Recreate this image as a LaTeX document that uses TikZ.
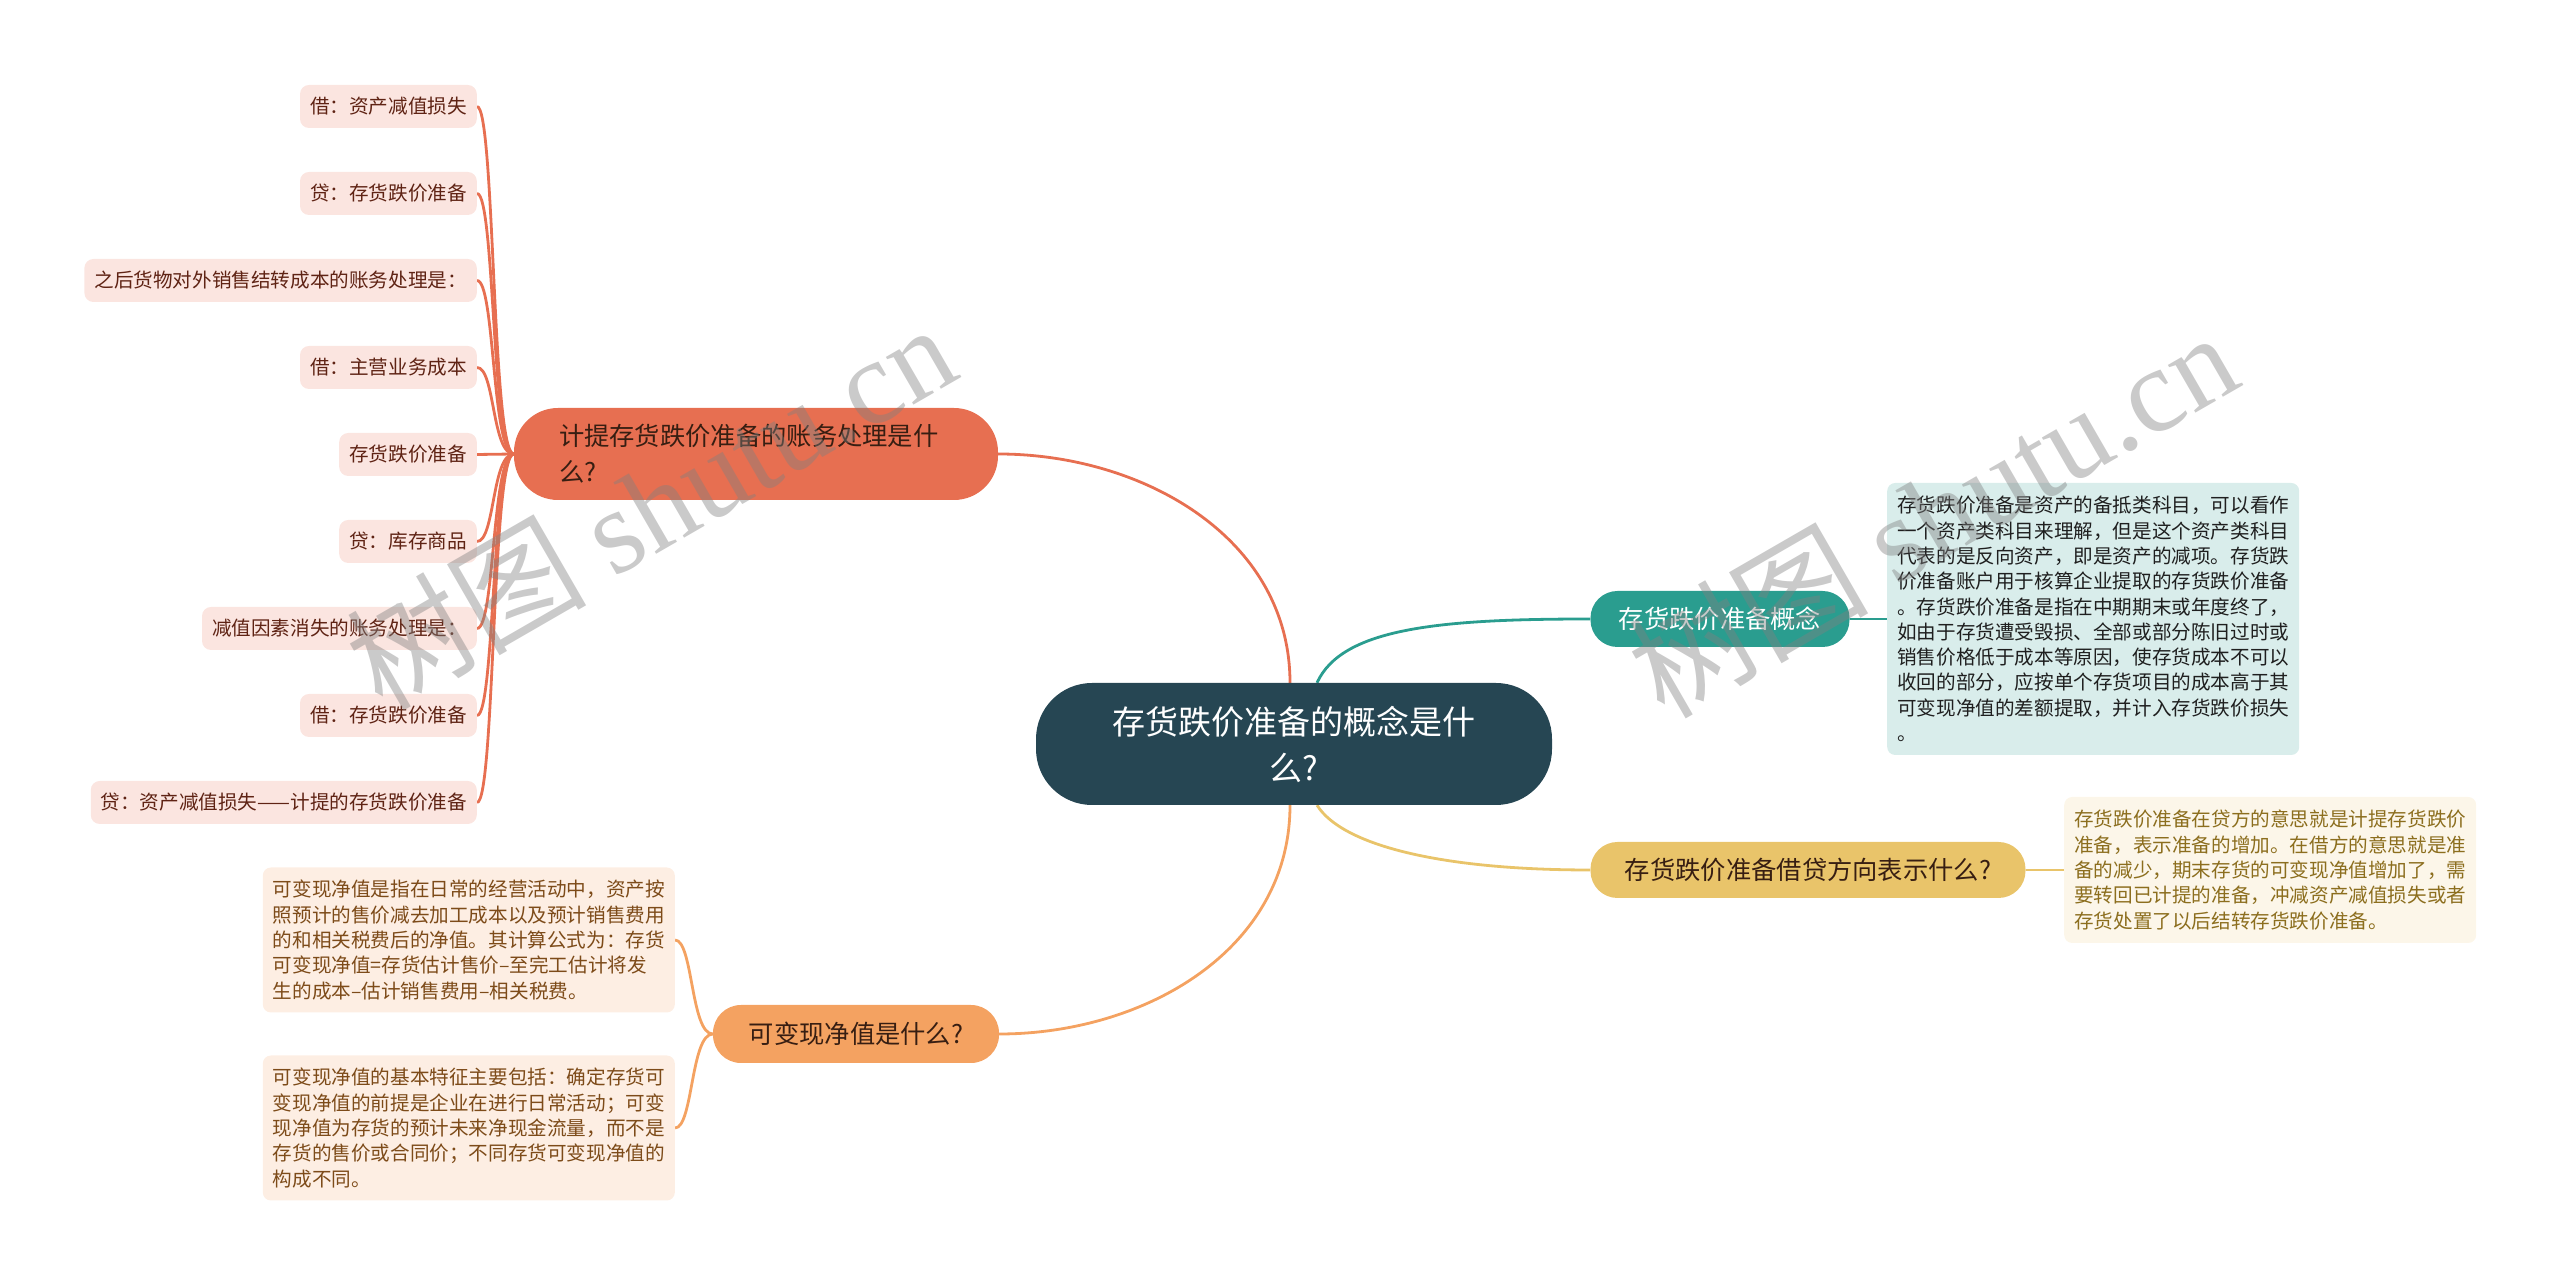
\documentclass[tikz,border=0pt]{standalone}
\usepackage{fontspec}
\setmainfont{Noto Sans CJK SC}
\newfontfamily\wmserif{Liberation Serif}
\usetikzlibrary{calc, backgrounds}
\definecolor{rootslate}{RGB}{38,70,83}
\definecolor{acctcoral}{RGB}{231,111,81}
\definecolor{nrvsandy}{RGB}{244,162,97}
\definecolor{conceptteal}{RGB}{42,157,143}
\definecolor{dirsaffron}{RGB}{233,196,106}
\definecolor{leafbrown}{RGB}{95,35,20}
\definecolor{noteolive}{RGB}{140,110,30}
\definecolor{notebrown}{RGB}{125,75,25}
\definecolor{topicdark}{RGB}{55,30,18}
\tikzset{
  topic/.style={rectangle, inner sep=0pt, align=center,
    font={\fontsize{25.3}{36}\selectfont}},
  roottopic/.style={topic, fill=rootslate, text=white, rounded corners=56,
    minimum width=516, minimum height=122,
    font={\fontsize{33}{46}\selectfont}},
  accttopic/.style={topic, fill=acctcoral, text=topicdark, rounded corners=44,
    minimum height=92, text width=394, inner xsep=45, align=left},
  concepttopic/.style={topic, fill=conceptteal, text=white, rounded corners=27,
    minimum width=259, minimum height=56},
  dirtopic/.style={topic, fill=dirsaffron, text=topicdark, rounded corners=27,
    minimum width=435, minimum height=56},
  nrvtopic/.style={topic, fill=nrvsandy, text=topicdark, rounded corners=28,
    minimum width=286, minimum height=58},
  leafbox/.style={rectangle, rounded corners=9, fill=acctcoral!18,
    text=leafbrown, minimum height=43, inner xsep=10, inner ysep=0pt,
    anchor=east, font={\fontsize{19.6}{24}\selectfont}},
  notebox/.style={rectangle, rounded corners=8, align=left, inner xsep=10,
    inner ysep=0pt, minimum width=411,
    font={\fontsize{19.6}{25.3}\selectfont}},
  conceptnote/.style={notebox, fill=conceptteal!18, text=black!88,
    minimum height=272, anchor=west},
  dirnote/.style={notebox, fill=dirsaffron!15, text=noteolive,
    minimum height=146, anchor=west},
  nrvnote/.style={notebox, fill=nrvsandy!18, text=notebrown,
    minimum height=145, anchor=east},
  acctline/.style={line width=2.8, draw=acctcoral},
  nrvline/.style={line width=2.8, draw=nrvsandy},
  conceptline/.style={line width=2.8, draw=conceptteal},
  dirline/.style={line width=2.8, draw=dirsaffron},
  watermark/.style={text=gray, text opacity=0.42, rotate=30,
    font={\fontsize{120}{120}\selectfont}},
}

\begin{document}
\begin{tikzpicture}[x=1pt, y=1pt, line cap=round]
  \useasboundingbox (0,0) rectangle (2560,1285);

  % main topics
  \node[roottopic] (root) at (1294,541) {存货跌价准备的概念是什\\么?};
  \node[accttopic] (acct) at (756,831) {计提存货跌价准备的账务处理是什\\么?};
  \node[nrvtopic] (nrv) at (856,251) {可变现净值是什么?};
  \node[concepttopic] (concept) at (1720,666) {存货跌价准备概念};
  \node[dirtopic] (dir) at (1808,415) {存货跌价准备借贷方向表示什么?};

  % journal entries
  \node[leafbox] (dr1) at (477,1178.5) {借：资产减值损失};
  \node[leafbox] (cr1) at (477,1091.5) {贷：存货跌价准备};
  \node[leafbox] (sale) at (477,1004.5) {之后货物对外销售结转成本的账务处理是：};
  \node[leafbox] (dr2) at (477,917.5) {借：主营业务成本};
  \node[leafbox] (res) at (477,830.5) {存货跌价准备};
  \node[leafbox] (cr2) at (477,743.5) {贷：库存商品};
  \node[leafbox] (gone) at (477,656.5) {减值因素消失的账务处理是：};
  \node[leafbox] (dr3) at (477,569.5) {借：存货跌价准备};
  \node[leafbox] (cr3) at (477,482.5) {贷：资产减值损失——计提的存货跌价准备};

  % notes
  \node[conceptnote] (conceptnote) at (1887,666) {%
    存货跌价准备是资产的备抵类科目，可以看作\\
    一个资产类科目来理解，但是这个资产类科目\\
    代表的是反向资产，即是资产的减项。存货跌\\
    价准备账户用于核算企业提取的存货跌价准备\\
    。存货跌价准备是指在中期期末或年度终了，\\
    如由于存货遭受毁损、全部或部分陈旧过时或\\
    销售价格低于成本等原因，使存货成本不可以\\
    收回的部分，应按单个存货项目的成本高于其\\
    可变现净值的差额提取，并计入存货跌价损失\\
    。};
  \node[dirnote] (dirnote) at (2064,415) {%
    存货跌价准备在贷方的意思就是计提存货跌价\\
    准备，表示准备的增加。在借方的意思就是准\\
    备的减少，期末存货的可变现净值增加了，需\\
    要转回已计提的准备，冲减资产减值损失或者\\
    存货处置了以后结转存货跌价准备。};
  \node[nrvnote] (nrvdef) at (675,345) {%
    可变现净值是指在日常的经营活动中，资产按\\
    照预计的售价减去加工成本以及预计销售费用\\
    的和相关税费后的净值。其计算公式为：存货\\
    可变现净值=存货估计售价–至完工估计将发\\
    生的成本–估计销售费用–相关税费。};
  \node[nrvnote] (nrvfeat) at (675,157) {%
    可变现净值的基本特征主要包括：确定存货可\\
    变现净值的前提是企业在进行日常活动；可变\\
    现净值为存货的预计未来净现金流量，而不是\\
    存货的售价或合同价；不同存货可变现净值的\\
    构成不同。};

  \begin{scope}[on background layer]
    \draw[acctline] ($(root.north)+(-4,0)$) to[out=90, in=0] (acct.east);
    \draw[nrvline] ($(root.south)+(-4,0)$) to[out=-90, in=0] (nrv.east);
    \draw[conceptline] ($(root.north)+(23,0)$)
      .. controls +(25,55) and +(-150,0) .. (concept.west);
    \draw[dirline] ($(root.south)+(23,0)$)
      .. controls +(25,-40) and +(-150,0) .. (dir.west);
    \draw[conceptline] (concept.east) -- (conceptnote.west);
    \draw[dirline] (dir.east) -- (dirnote.west);
    \draw[acctline] (acct.west) .. controls +(-22,0) and +(18,0) .. (dr1.east);
    \draw[acctline] (acct.west) .. controls +(-22,0) and +(18,0) .. (cr1.east);
    \draw[acctline] (acct.west) .. controls +(-22,0) and +(18,0) .. (sale.east);
    \draw[acctline] (acct.west) .. controls +(-22,0) and +(18,0) .. (dr2.east);
    \draw[acctline] (acct.west) -- (res.east);
    \draw[acctline] (acct.west) .. controls +(-22,0) and +(18,0) .. (cr2.east);
    \draw[acctline] (acct.west) .. controls +(-22,0) and +(18,0) .. (gone.east);
    \draw[acctline] (acct.west) .. controls +(-22,0) and +(18,0) .. (dr3.east);
    \draw[acctline] (acct.west) .. controls +(-22,0) and +(18,0) .. (cr3.east);
    \draw[nrvline] (nrv.west) .. controls +(-22,0) and +(18,0) .. (nrvdef.east);
    \draw[nrvline] (nrv.west) .. controls +(-22,0) and +(18,0) .. (nrvfeat.east);
  \end{scope}

  % watermarks
  \node[watermark] (wmleft) at (650,780) {树图 {\wmserif shutu.cn}};
  \node[watermark] (wmright) at (1932,772) {树图 {\wmserif shutu.cn}};
\end{tikzpicture}
\end{document}
